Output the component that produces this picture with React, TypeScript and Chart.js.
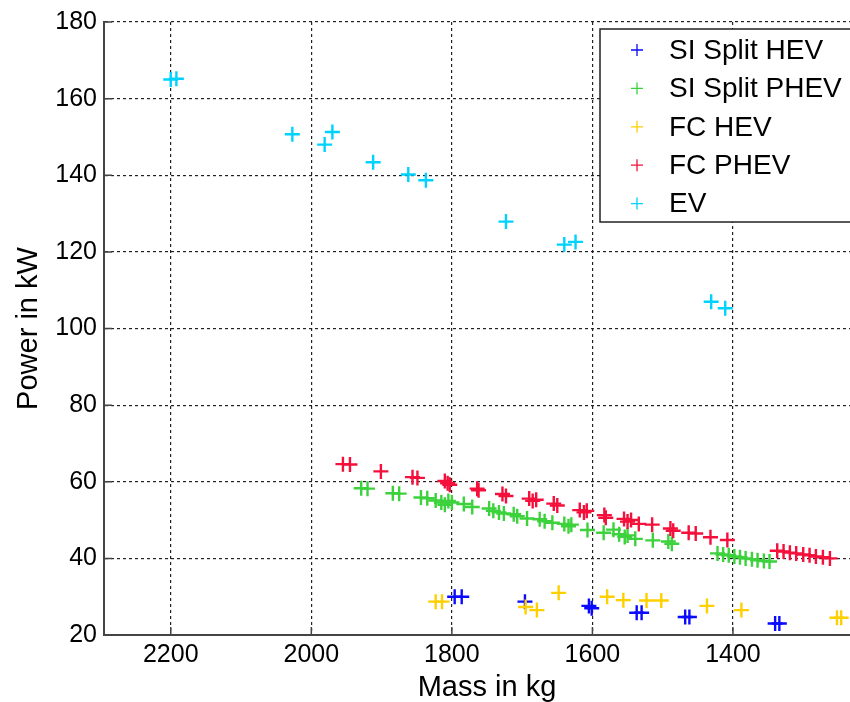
import React, { useEffect, useRef } from "react";
import { Chart, registerables } from "chart.js";

Chart.register(...registerables);

const seriesLabels = ["SI Split HEV", "SI Split PHEV", "FC HEV", "FC PHEV", "EV"];
const seriesColors = ["#0a0aff", "#3cd23c", "#ffd000", "#f5103c", "#00d2ff"];

const siHevMass = [1796, 1786, 1696, 1605, 1601, 1537, 1530, 1468, 1462, 1340, 1334];
const siHevPower = [30.0, 30.0, 28.7, 27.6, 27.0, 25.8, 25.8, 24.7, 24.7, 23.0, 23.0];

const siPhevMass = [1929, 1920, 1884, 1875, 1844, 1835, 1823, 1815, 1810, 1805, 1800, 1783, 1771, 1747, 1741, 1733, 1726, 1712, 1707, 1693, 1675, 1668, 1657, 1640, 1634, 1630, 1607, 1584, 1570, 1562, 1554, 1550, 1539, 1514, 1492, 1487, 1422, 1414, 1406, 1398, 1390, 1382, 1373, 1365, 1356, 1348];
const siPhevPower = [58.3, 58.2, 57.0, 56.9, 55.9, 55.7, 55.1, 54.6, 54.0, 55.0, 54.6, 54.2, 53.4, 53.0, 52.4, 52.0, 51.7, 51.5, 51.0, 50.4, 50.2, 49.7, 49.3, 49.0, 48.4, 48.8, 47.4, 46.7, 47.5, 46.3, 45.6, 46.0, 45.1, 44.7, 44.4, 43.8, 41.3, 41.0, 40.8, 40.5, 40.3, 40.0, 39.8, 39.5, 39.3, 39.2];

const fcHevMass = [1823, 1814, 1695, 1679, 1648, 1579, 1556, 1523, 1502, 1437, 1388, 1252, 1246];
const fcHevPower = [28.7, 28.7, 27.3, 26.5, 31.0, 30.0, 29.1, 29.0, 29.0, 27.6, 26.5, 24.5, 24.5];

const fcPhevMass = [1955, 1945, 1901, 1856, 1849, 1810, 1806, 1803, 1764, 1762, 1728, 1723, 1690, 1685, 1680, 1655, 1650, 1618, 1612, 1608, 1583, 1581, 1555, 1550, 1545, 1534, 1515, 1489, 1485, 1463, 1453, 1432, 1408, 1337, 1328, 1319, 1310, 1300, 1291, 1282, 1272, 1262];
const fcPhevPower = [64.6, 64.5, 62.7, 61.2, 61.0, 60.2, 59.6, 59.2, 58.2, 57.8, 56.8, 56.3, 55.6, 55.0, 55.3, 54.3, 53.8, 52.6, 52.0, 52.4, 51.3, 50.6, 50.3, 49.6, 50.0, 49.0, 48.8, 47.8, 47.2, 46.7, 46.5, 45.5, 44.8, 42.0, 41.8, 41.5, 41.3, 41.0, 40.8, 40.5, 40.3, 40.0];

const evMass = [2200, 2192, 2027, 1981, 1970, 1912, 1862, 1837, 1723, 1640, 1624, 1431, 1411];
const evPower = [165.0, 165.2, 150.7, 148.0, 151.3, 143.4, 140.2, 138.7, 127.9, 121.9, 122.6, 107.0, 105.3];

const xTicks = [2200, 2000, 1800, 1600, 1400];
const yTicks = [20, 40, 60, 80, 100, 120, 140, 160, 180];

const massSeries = [siHevMass, siPhevMass, fcHevMass, fcPhevMass, evMass];
const powerSeries = [siHevPower, siPhevPower, fcHevPower, fcPhevPower, evPower];

const FONT = "'Liberation Sans', Arial, Helvetica, sans-serif";

const legendPlugin = {
  id: "boxLegend",
  afterDraw(chart: any) {
    const ctx = chart.ctx;
    ctx.save();
    const bx = 600, by = 29, bw = 290, bh = 193;
    ctx.fillStyle = "#ffffff";
    ctx.fillRect(bx, by, bw, bh);
    ctx.strokeStyle = "#222222";
    ctx.lineWidth = 1.5;
    ctx.strokeRect(bx, by, bw, bh);
    ctx.font = `28px ${FONT}`;
    ctx.textBaseline = "middle";
    ctx.textAlign = "left";
    seriesLabels.forEach((lab, i) => {
      const cy = 50 + i * 38.4;
      ctx.strokeStyle = seriesColors[i];
      ctx.lineWidth = 1.3;
      ctx.beginPath();
      ctx.moveTo(631, cy);
      ctx.lineTo(643, cy);
      ctx.moveTo(637, cy - 6);
      ctx.lineTo(637, cy + 6);
      ctx.stroke();
      ctx.fillStyle = "#000000";
      ctx.fillText(lab, 669, cy + 1);
    });
    ctx.restore();
  },
};

const tickMarkPlugin = {
  id: "innerTicks",
  afterDatasetsDraw(chart: any) {
    const { ctx, chartArea, scales } = chart;
    ctx.save();
    ctx.strokeStyle = "#444444";
    ctx.lineWidth = 1.5;
    ctx.beginPath();
    xTicks.forEach((v) => {
      const px = scales.x.getPixelForValue(v);
      ctx.moveTo(px, chartArea.bottom);
      ctx.lineTo(px, chartArea.bottom - 8);
    });
    yTicks.forEach((v) => {
      const py = scales.y.getPixelForValue(v);
      ctx.moveTo(chartArea.left, py);
      ctx.lineTo(chartArea.left + 8, py);
    });
    ctx.stroke();
    ctx.restore();
  },
};

export default function App() {
  const ref = useRef<HTMLCanvasElement | null>(null);
  useEffect(() => {
    if (!ref.current) return;
    const datasets = seriesLabels.map((label, i) => ({
      label,
      data: massSeries[i].map((m, j) => ({ x: m, y: powerSeries[i][j] })),
      pointStyle: "cross" as const,
      pointRadius: 7.5,
      pointBorderWidth: 2.4,
      borderColor: seriesColors[i],
      backgroundColor: seriesColors[i],
      showLine: false,
      order: 5 - i,
    }));
    const chart = new Chart(ref.current, {
      type: "scatter",
      data: { datasets },
      plugins: [tickMarkPlugin, legendPlugin],
      options: {
        animation: false,
        responsive: false,
        maintainAspectRatio: false,
        layout: { padding: { top: 19, left: 0, right: 10, bottom: 0 } },
        plugins: {
          legend: { display: false },
          tooltip: { enabled: false },
          title: { display: false },
        },
        scales: {
          x: {
            type: "linear",
            reverse: true,
            min: 1205,
            max: 2295,
            afterBuildTicks: (s: any) => {
              s.ticks = xTicks.map((v) => ({ value: v }));
            },
            afterFit: (s: any) => {
              s.height = 67;
            },
            grid: { color: "#222222", lineWidth: 1.2, drawTicks: false },
            border: { display: true, color: "#444444", width: 2, dash: [3, 3] },
            ticks: {
              color: "#000000",
              font: { family: FONT, size: 25 },
              padding: 5,
              maxRotation: 0,
              callback: (v: any) => String(v),
            },
            title: {
              display: true,
              text: "Mass in kg",
              color: "#000000",
              font: { family: FONT, size: 29, lineHeight: 1 },
              padding: { top: 0, bottom: 0 },
            },
          },
          y: {
            type: "linear",
            min: 20,
            max: 180,
            afterBuildTicks: (s: any) => {
              s.ticks = yTicks.map((v) => ({ value: v }));
            },
            afterFit: (s: any) => {
              s.width = 104;
            },
            grid: { color: "#222222", lineWidth: 1.2, drawTicks: false },
            border: { display: true, color: "#444444", width: 2, dash: [3, 3] },
            ticks: {
              color: "#000000",
              font: { family: FONT, size: 25 },
              padding: 7,
              callback: (v: any) => String(v),
            },
            title: {
              display: true,
              text: "Power in kW",
              color: "#000000",
              font: { family: FONT, size: 29, lineHeight: 1 },
              padding: { top: 14, bottom: 0 },
            },
          },
        },
      },
    });
    return () => chart.destroy();
  }, []);
  return (
    <div
      style={{
        position: "fixed",
        left: 0,
        top: 0,
        width: 850,
        height: 702,
        overflow: "hidden",
        background: "#ffffff",
      }}
    >
      <canvas ref={ref} width={880} height={702} style={{ width: 880, height: 702, display: "block" }} />
    </div>
  );
}
